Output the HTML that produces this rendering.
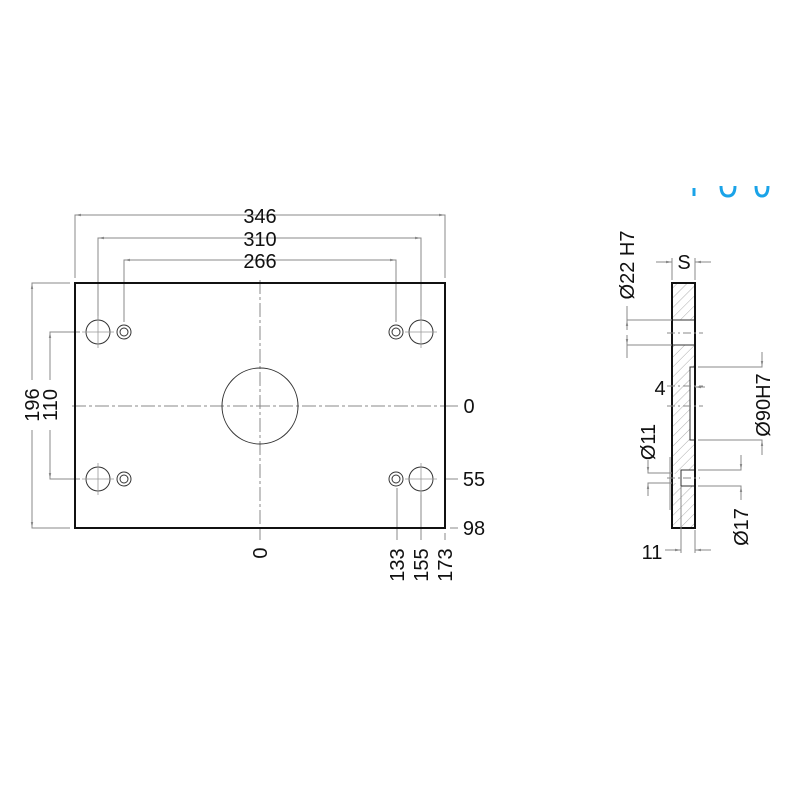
<!DOCTYPE html>
<html><head><style>body{margin:0;background:#fff}svg{display:block}</style></head><body>
<svg width="800" height="800" viewBox="0 0 800 800" xmlns="http://www.w3.org/2000/svg" font-family="Liberation Sans, sans-serif">
<defs>
<pattern id="h" width="7" height="7" patternUnits="userSpaceOnUse" patternTransform="rotate(45)"><line x1="0" y1="0" x2="0" y2="7" stroke="#999" stroke-width="0.8"/></pattern>
<marker id="a" viewBox="0 0 10 10" refX="10" refY="5" markerWidth="6" markerHeight="6" orient="auto-start-reverse"><path d="M0,3L10,5L0,7z" fill="#888"/></marker>
</defs>
<g fill="none" stroke="#1aa3e8" stroke-width="3"><line x1="694" y1="188" x2="694" y2="196"/><path d="M721,186 Q721,196 728,196 Q735,196 735,186"/><path d="M756,186 Q756,196 762,196 Q768,196 768,186"/></g>
<g stroke="#888" stroke-width="1" fill="none">
<polyline points="75,278 75,215 445,215 445,278"/>
<line x1="75" y1="215" x2="85" y2="215" marker-start="url(#a)"/>
<line x1="445" y1="215" x2="435" y2="215" marker-start="url(#a)"/>
<polyline points="98,320 98,238 421,238 421,320"/>
<line x1="98" y1="238" x2="108" y2="238" marker-start="url(#a)"/>
<line x1="421" y1="238" x2="411" y2="238" marker-start="url(#a)"/>
<polyline points="124,322 124,260 396,260 396,322"/>
<line x1="124" y1="260" x2="134" y2="260" marker-start="url(#a)"/>
<line x1="396" y1="260" x2="386" y2="260" marker-start="url(#a)"/>
<polyline points="70,283 32,283 32,380"/><polyline points="32,430 32,528 70,528"/>
<line x1="32" y1="283" x2="32" y2="293" marker-start="url(#a)"/>
<line x1="32" y1="528" x2="32" y2="518" marker-start="url(#a)"/>
<polyline points="80,332 50,332 50,380"/><polyline points="50,430 50,479 80,479"/>
<line x1="50" y1="332" x2="50" y2="342" marker-start="url(#a)"/>
<line x1="50" y1="479" x2="50" y2="469" marker-start="url(#a)"/>
<line x1="445" y1="406" x2="458" y2="406"/><line x1="445" y1="479" x2="458" y2="479"/><line x1="450" y1="528" x2="458" y2="528"/>
<line x1="260" y1="528" x2="260" y2="540"/>
<line x1="397" y1="488" x2="397" y2="540"/><line x1="421" y1="492" x2="421" y2="540"/><line x1="445" y1="533" x2="445" y2="540"/>
<line x1="260" y1="280" x2="260" y2="530" stroke-dasharray="14,3,3,3"/>
<line x1="72" y1="406" x2="448" y2="406" stroke-dasharray="14,3,3,3"/>
</g>
<g stroke="#333" stroke-width="1" fill="none">
<circle cx="260" cy="406" r="38"/>
<circle cx="98" cy="332" r="12"/><circle cx="421" cy="332" r="12"/><circle cx="98" cy="479" r="12"/><circle cx="421" cy="479" r="12"/>
<circle cx="124" cy="332" r="7"/><circle cx="124" cy="332" r="4"/><circle cx="396" cy="332" r="7"/><circle cx="396" cy="332" r="4"/>
<circle cx="124" cy="479" r="7"/><circle cx="124" cy="479" r="4"/><circle cx="396" cy="479" r="7"/><circle cx="396" cy="479" r="4"/>
</g>
<g stroke="#999" stroke-width="0.8">
<line x1="82" y1="332" x2="114" y2="332"/><line x1="98" y1="316" x2="98" y2="348"/>
<line x1="405" y1="332" x2="437" y2="332"/><line x1="421" y1="316" x2="421" y2="348"/>
<line x1="82" y1="479" x2="114" y2="479"/><line x1="98" y1="463" x2="98" y2="495"/>
<line x1="405" y1="479" x2="437" y2="479"/><line x1="421" y1="463" x2="421" y2="495"/>
</g>
<rect x="75" y="283" width="370" height="245" fill="none" stroke="#111" stroke-width="2"/>
<g font-size="20" fill="#111" text-anchor="middle">
<text x="260" y="223">346</text><text x="260" y="246">310</text><text x="260" y="268">266</text>
<text x="469" y="413">0</text><text x="474" y="486">55</text><text x="474" y="535">98</text>
<text transform="translate(39,405) rotate(-90)">196</text>
<text transform="translate(57,405) rotate(-90)">110</text>
<text transform="translate(267,553) rotate(-90)">0</text>
<text transform="translate(404,565) rotate(-90)">133</text>
<text transform="translate(428,565) rotate(-90)">155</text>
<text transform="translate(452,565) rotate(-90)">173</text>
</g>
<rect x="672" y="283" width="23" height="37" fill="url(#h)"/>
<rect x="672" y="345" width="23" height="183" fill="url(#h)"/>
<rect x="690" y="367" width="5" height="73" fill="#fff"/>
<rect x="681" y="470" width="14" height="16" fill="#fff"/>
<rect x="672" y="474" width="9" height="9" fill="#fff"/>
<g stroke="#333" stroke-width="1" fill="none">
<line x1="672" y1="320" x2="695" y2="320"/><line x1="672" y1="345" x2="695" y2="345"/>
<polyline points="695,367 690,367 690,440 695,440"/>
<polyline points="695,470 681,470 681,486 695,486"/>
</g>
<rect x="672" y="283" width="23" height="245" fill="none" stroke="#111" stroke-width="2"/>
<g stroke="#888" stroke-width="1" fill="none">
<line x1="672" y1="280" x2="672" y2="258"/><line x1="695" y1="280" x2="695" y2="258"/>
<line x1="656" y1="262" x2="672" y2="262" marker-end="url(#a)"/><line x1="711" y1="262" x2="695" y2="262" marker-end="url(#a)"/>
<polyline points="672,320 627,320 627,306"/><polyline points="672,345 627,345 627,358"/>
<line x1="627" y1="330" x2="627" y2="320" marker-end="url(#a)"/><line x1="627" y1="335" x2="627" y2="345" marker-end="url(#a)"/>
<line x1="667" y1="333" x2="703" y2="333" stroke-dasharray="8,3,2,3"/>
<polyline points="698,367 762,367 762,352"/><polyline points="698,440 762,440 762,455"/>
<line x1="762" y1="357" x2="762" y2="367" marker-end="url(#a)"/><line x1="762" y1="450" x2="762" y2="440" marker-end="url(#a)"/>
<line x1="667" y1="386" x2="703" y2="386" stroke-dasharray="8,3,2,3"/>
<line x1="667" y1="406" x2="703" y2="406" stroke-dasharray="8,3,2,3"/>
<line x1="670" y1="457" x2="670" y2="510"/>
<polyline points="672,473 648,473 648,460"/><polyline points="672,483 648,483 648,496"/>
<line x1="648" y1="463" x2="648" y2="473" marker-end="url(#a)"/><line x1="648" y1="493" x2="648" y2="483" marker-end="url(#a)"/>
<line x1="667" y1="478" x2="700" y2="478" stroke-dasharray="8,3,2,3"/>
<polyline points="698,470 741,470 741,455"/><polyline points="698,486 741,486 741,500"/>
<line x1="741" y1="460" x2="741" y2="470" marker-end="url(#a)"/><line x1="741" y1="496" x2="741" y2="486" marker-end="url(#a)"/>
<line x1="681" y1="486" x2="681" y2="553"/><line x1="695" y1="530" x2="695" y2="553"/>
<line x1="665" y1="550" x2="681" y2="550" marker-end="url(#a)"/><line x1="711" y1="550" x2="695" y2="550" marker-end="url(#a)"/>
<line x1="705" y1="387" x2="695" y2="387" marker-end="url(#a)"/>
</g>
<g font-size="20" fill="#111" text-anchor="middle">
<text x="684" y="269">S</text>
<text x="660" y="395">4</text>
<text x="652" y="559">11</text>
<text transform="translate(634,265) rotate(-90)">Ø22 H7</text>
<text transform="translate(770,405) rotate(-90)">Ø90H7</text>
<text transform="translate(655,442) rotate(-90)">Ø11</text>
<text transform="translate(748,527) rotate(-90)">Ø17</text>
</g>
</svg>
</body></html>
